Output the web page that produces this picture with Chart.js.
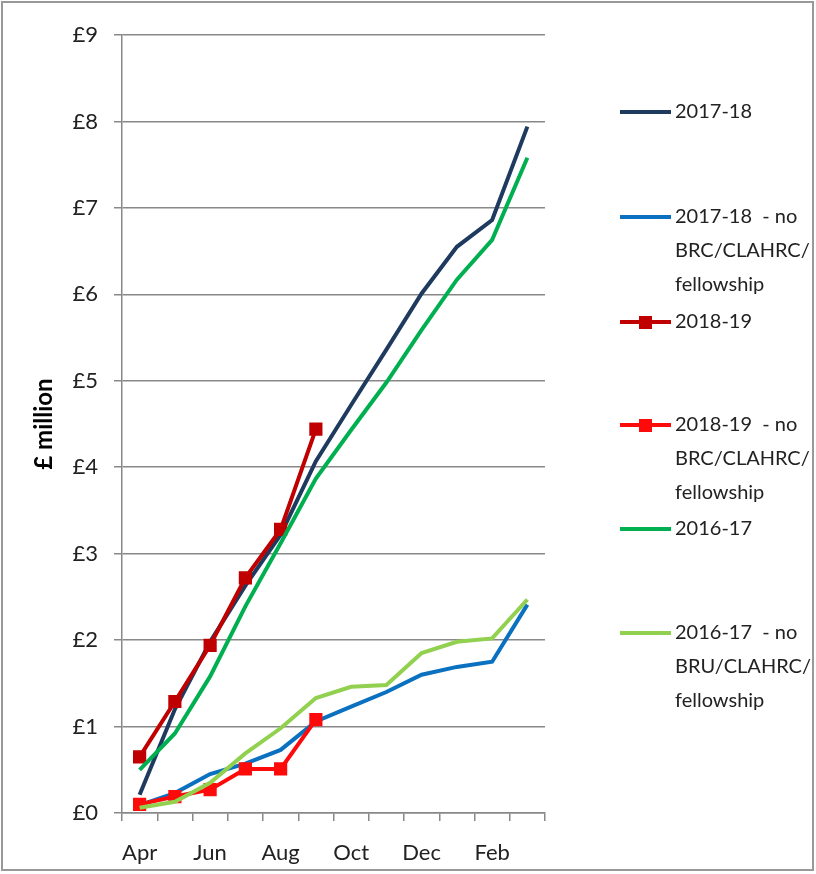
<!DOCTYPE html>
<html>
<head>
<meta charset="utf-8">
<script src="https://cdn.jsdelivr.net/npm/chart.js@4.4.0/dist/chart.umd.min.js"></script>
<style>
  html, body { margin: 0; padding: 0; background: #fff; }
  #wrap { position: absolute; left: 0; top: 0; width: 816px; height: 874px; }
</style>
</head>
<body>
<div id="wrap"><canvas id="spendChart" width="816" height="874"></canvas></div>
<script>
// months of the financial year
const months = ["Apr", "May", "Jun", "Jul", "Aug", "Sep", "Oct", "Nov", "Dec", "Jan", "Feb", "Mar"];
const yTicks = [0, 1, 2, 3, 4, 5, 6, 7, 8, 9];

// cumulative spend, £ million
const spend1718 = [0.21, 1.2, 1.98, 2.63, 3.22, 4.07, 4.72, 5.36, 6.01, 6.55, 6.86, 7.94];
const spend1718No = [0.09, 0.23, 0.45, 0.57, 0.73, 1.06, 1.23, 1.40, 1.60, 1.69, 1.75, 2.41];
const spend1819 = [0.65, 1.29, 1.94, 2.72, 3.28, 4.44];
const spend1819No = [0.10, 0.19, 0.27, 0.51, 0.51, 1.08];
const spend1617 = [0.50, 0.92, 1.58, 2.39, 3.12, 3.87, 4.43, 4.98, 5.59, 6.17, 6.63, 7.58];
const spend1617No = [0.06, 0.13, 0.35, 0.69, 0.98, 1.33, 1.46, 1.48, 1.85, 1.98, 2.02, 2.47];

// legend text, one line per entry
const legendText = [
  ["2017-18"],
  ["2017-18  - no", "BRC/CLAHRC/", "fellowship"],
  ["2018-19"],
  ["2018-19  - no", "BRC/CLAHRC/", "fellowship"],
  ["2016-17"],
  ["2016-17  - no", "BRU/CLAHRC/", "fellowship"],
];
const legendY = [112, 217, 322, 425, 529, 633];

const FONT = "Lato, 'Open Sans', sans-serif";

function series(label, data, color, marker, order) {
  return {
    label: label,
    data: data,
    borderColor: color,
    backgroundColor: color,
    borderWidth: 4,
    tension: 0,
    pointStyle: "rect",
    pointRadius: marker ? 6.5 : 0,
    pointHoverRadius: marker ? 6.5 : 0,
    order: order,
  };
}

// custom legend on the right + picture frame
const sideLegend = {
  id: "sideLegend",
  afterDraw(chart) {
    const ctx = chart.ctx;
    ctx.save();
    chart.data.datasets.forEach((ds, i) => {
      const y = legendY[i];
      ctx.strokeStyle = ds.borderColor;
      ctx.lineWidth = 4;
      ctx.beginPath();
      ctx.moveTo(620, y);
      ctx.lineTo(671, y);
      ctx.stroke();
      if (ds.pointRadius > 0) {
        ctx.fillStyle = ds.borderColor;
        ctx.fillRect(639, y - 6, 13, 13);
      }
      ctx.fillStyle = "#222";
      ctx.font = "20px " + FONT;
      ctx.textBaseline = "middle";
      ctx.textAlign = "left";
      legendText[i].forEach((t, j) => ctx.fillText(t, 675, y + j * 34));
    });
    ctx.strokeStyle = "#999";
    ctx.lineWidth = 2;
    ctx.strokeRect(2, 2, 811, 868);
    ctx.restore();
  },
};

new Chart(document.getElementById("spendChart"), {
  type: "line",
  data: {
    labels: months,
    datasets: [
      series("2017-18", spend1718, "#1F3A5F", false, 6),
      series("2017-18 - no BRC/CLAHRC/fellowship", spend1718No, "#0A70C0", false, 5),
      series("2018-19", spend1819, "#C00000", true, 4),
      series("2018-19 - no BRC/CLAHRC/fellowship", spend1819No, "#FF0A0A", true, 3),
      series("2016-17", spend1617, "#00B050", false, 2),
      series("2016-17 - no BRU/CLAHRC/fellowship", spend1617No, "#92D050", false, 1),
    ],
  },
  options: {
    responsive: false,
    animation: false,
    layout: { padding: { top: 35, right: 271, bottom: 0, left: 0 } },
    plugins: {
      legend: { display: false },
      tooltip: { enabled: false },
    },
    scales: {
      x: {
        offset: true,
        grid: { offset: true, drawOnChartArea: false, drawTicks: true, tickLength: 8, color: "#888", lineWidth: 1.5 },
        border: { color: "#888", width: 1.5 },
        ticks: {
          autoSkip: false,
          maxRotation: 0,
          padding: 19,
          color: "#222",
          font: { family: FONT, size: 22 },
          callback: (v, i) => (i % 2 === 0 ? months[i] : ""),
        },
        afterFit: (scale) => { scale.height = 61; },
      },
      y: {
        min: yTicks[0],
        max: yTicks[yTicks.length - 1],
        afterBuildTicks: (scale) => { scale.ticks = yTicks.map((v) => ({ value: v })); },
        grid: { color: "#888", lineWidth: 1.5, tickLength: 8 },
        border: { color: "#888", width: 1.5 },
        ticks: {
          padding: 16,
          color: "#222",
          font: { family: FONT, size: 22 },
          callback: (v) => "£" + v,
        },
        title: {
          display: true,
          text: "£ million",
          color: "#000",
          font: { family: FONT, size: 24, weight: "bold" },
          padding: { top: 30, bottom: 0 },
        },
        afterFit: (scale) => { scale.width = 122; },
      },
    },
  },
  plugins: [sideLegend],
});
</script>
</body>
</html>
